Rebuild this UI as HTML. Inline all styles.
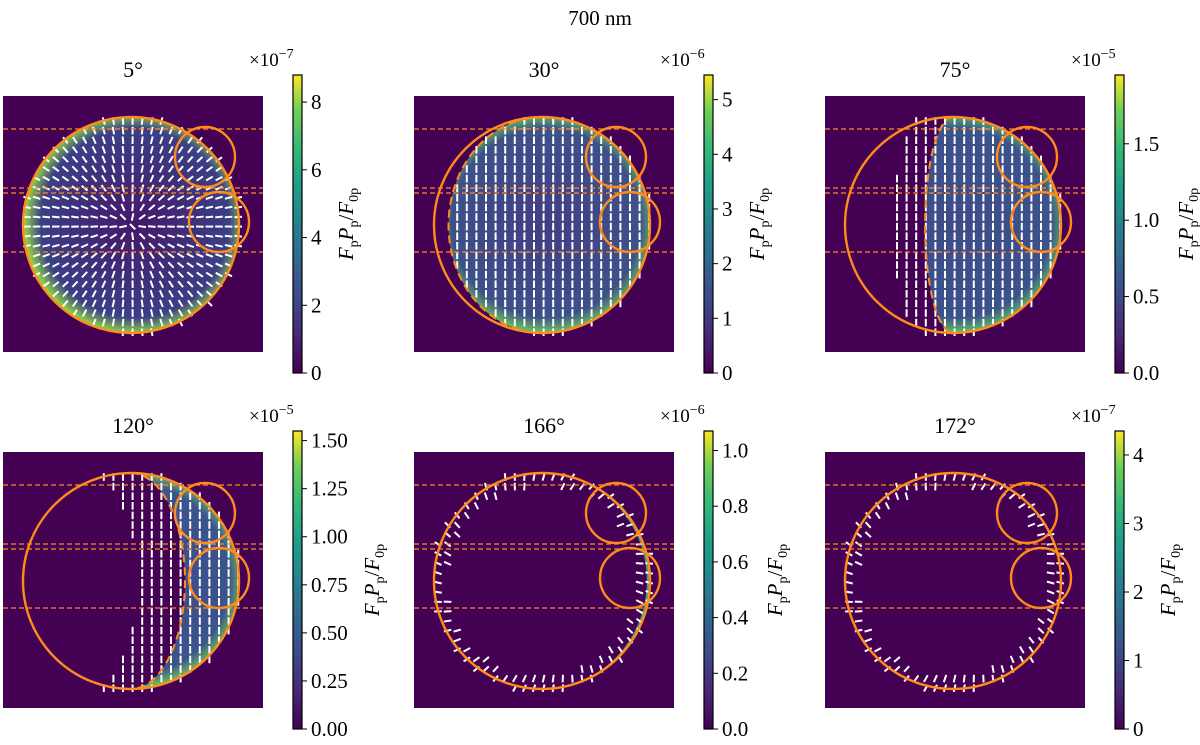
<!DOCTYPE html>
<html><head><meta charset="utf-8"><style>
body{margin:0;background:#fff;}
svg text{font-family:"Liberation Serif",serif;fill:#000;}
</style></head><body>
<svg id="fig" width="1200" height="740" viewBox="0 0 1200 740" xmlns="http://www.w3.org/2000/svg">
<defs>
<linearGradient id="vir" x1="0" y1="1" x2="0" y2="0">
<stop offset="0" stop-color="#440154"/><stop offset="0.13" stop-color="#482878"/><stop offset="0.25" stop-color="#3e4989"/><stop offset="0.38" stop-color="#31688e"/><stop offset="0.5" stop-color="#26828e"/><stop offset="0.63" stop-color="#1f9e89"/><stop offset="0.75" stop-color="#35b779"/><stop offset="0.88" stop-color="#6ece58"/><stop offset="1" stop-color="#fde725"/>
</linearGradient>
</defs>
<text x="600" y="25" text-anchor="middle" font-size="21">700 nm</text>
</svg>
<script>
const titles=["5°","30°","75°","120°","166°","172°"];
const phases=[5,30,75,120,166,172];
const cbMax=[8.8,5.45,1.95,1.55,1.07,4.35];
const cbExp=["−7","−6","−5","−5","−6","−7"];
const cbTicks=[[0,2,4,6,8],[0,1,2,3,4,5],[0,0.5,1.0,1.5],[0,0.25,0.5,0.75,1.0,1.25,1.5],[0,0.2,0.4,0.6,0.8,1.0],[0,1,2,3,4]];
const tickDec=[0,0,1,2,1,0];
const NS="http://www.w3.org/2000/svg";
const svg=document.getElementById('fig');
function mk(tag,attrs,parent){const e=document.createElementNS(NS,tag);for(const k in attrs)e.setAttribute(k,attrs[k]);(parent||svg).appendChild(e);return e;}
const fills=[["#45176a","#3b3f86","#8fd744"],["#433c84","#3d5189","#6ece58"],["#3e4c8a","#3b528b","#5ec962"],["#3f4889","#3a548c","#7ad151"],["#46307e","#2a788e","#5ec962"],["#472c7a","#2a788e","#5ec962"]];
const lblOff=[54,54,72,80,72,54];
const band=[0,0,32,48,0,0];
for(let p=0;p<6;p++){
  const col=p%3,row=Math.floor(p/3);
  const ix=3+col*411, iy=row?452:96, W=260,H=256;
  const g=mk('g',{});
  
  
  const t=mk('text',{x:ix+130,y:iy-19,'text-anchor':'middle','font-size':22},g);t.textContent=titles[p];
  
  const bg=mk('rect',{x:ix,y:iy,width:W,height:H,fill:'#440154'},g);
  
  const cx=ix+128,cy=iy+129,r=108;
  const a=phases[p]*Math.PI/180, ex=r*Math.abs(Math.cos(a));
  const gid='rg'+p;
  const rg=mk('radialGradient',{id:gid,cx:cx+4,cy:cy-2,r:r+3,gradientUnits:'userSpaceOnUse'},svg.querySelector('defs'));
  mk('stop',{offset:'0','stop-color':fills[p][0]},rg);mk('stop',{offset:'0.85','stop-color':fills[p][1]},rg);mk('stop',{offset:'1','stop-color':fills[p][2]},rg);
  let d;
  if(phases[p]<90){d=`M${cx} ${cy-r} A${r} ${r} 0 0 1 ${cx} ${cy+r} A${ex} ${r} 0 0 1 ${cx} ${cy-r}Z`;}
  else{d=`M${cx} ${cy-r} A${r} ${r} 0 0 1 ${cx} ${cy+r} A${ex} ${r} 0 0 0 ${cx} ${cy-r}Z`;}
  const lit=mk('path',{d:d,fill:`url(#${gid})`},g);
  
  const sp=9.6;
  for(let yy=cy-r+4;yy<cy+r;yy+=sp){for(let xx=cx-r+4;xx<cx+r;xx+=sp){
    const dx=xx-cx,dy=yy-cy,rr=Math.hypot(dx,dy); if(rr>r+3)continue;
    const hw=Math.sqrt(Math.max(0,1-dy*dy/(r*r)));
    const tx=phases[p]<90?-ex*hw:ex*hw;
    if(phases[p]>=150){ if(rr<r-12)continue; }
    else if(dx<tx-band[p])continue;
    let ang=Math.PI/2;
    if(p===0)ang=Math.atan2(dy,dx);
    if(p>=4)ang=Math.atan2(dy,dx)+0.25;
    const L=3.8;const ca=Math.cos(ang)*L,sa=Math.sin(ang)*L;
    const ln=mk('line',{x1:xx-ca,y1:yy-sa,x2:xx+ca,y2:yy+sa,stroke:'#fff','stroke-width':2},g);
    
  }}
  [33,92,97,156].forEach(o=>{const l=mk('line',{x1:ix,x2:ix+W,y1:iy+o,y2:iy+o,stroke:'#ff8c1a','stroke-width':1.2,'stroke-dasharray':'5 3'},g);
    });
  const c=mk('circle',{cx:cx,cy:cy,r:r,fill:'none',stroke:'#ff8c1a','stroke-width':2.4},g);
  
  if(phases[p]>10&&phases[p]<150){
    const tp=mk('path',{d:`M${cx} ${cy-r} A${ex} ${r} 0 0 ${phases[p]<90?0:1} ${cx} ${cy+r}`,fill:'none',stroke:'#ff8c1a','stroke-width':2,'stroke-dasharray':'8 5'},g);
    
  }
  [[ix+202,iy+61],[ix+216,iy+126]].forEach(q=>{const s=mk('circle',{cx:q[0],cy:q[1],r:30,fill:'none',stroke:'#ff8c1a','stroke-width':2.4},g);
    });
  const bx=293+col*411, by0=row?431:75, bh=298, bw=9;
  const cb=mk('rect',{x:bx,y:by0,width:bw,height:bh,fill:'url(#vir)',stroke:'#000','stroke-width':1.2},g);
  
  cbTicks[p].forEach(v=>{const y=by0+bh-v/cbMax[p]*bh;
    mk('line',{x1:bx+bw,x2:bx+bw+5,y1:y,y2:y,stroke:'#000','stroke-width':1},g);
    const tl=mk('text',{x:bx+bw+9,y:y+7,'font-size':21},g);tl.textContent=v.toFixed(tickDec[p]);
    });
  const ex1=mk('text',{x:bx-44,y:by0-9,'font-size':19},g);ex1.innerHTML='×10<tspan dy="-8" font-size="14">'+cbExp[p]+'</tspan>';
  
  const lb=mk('text',{transform:`translate(${bx+lblOff[p]+6},${by0+bh/2}) rotate(-90)`,'text-anchor':'middle','font-size':21,'font-style':'italic'},g);
  lb.innerHTML='F<tspan dy="5" font-size="14" font-style="normal">p</tspan><tspan dy="-5">P</tspan><tspan dy="5" font-size="14" font-style="normal">p</tspan><tspan dy="-5" font-style="normal">/</tspan>F<tspan dy="5" font-size="14" font-style="normal">0p</tspan>';
  
}
</script>
</body></html>
